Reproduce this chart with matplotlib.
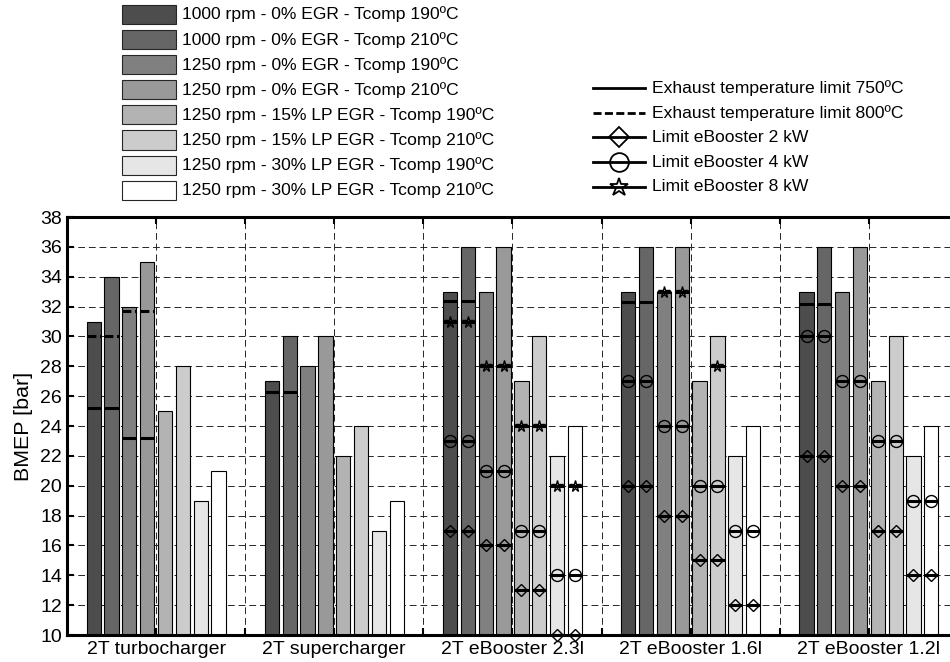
import numpy as np
import matplotlib
matplotlib.use('Agg')
import matplotlib.pyplot as plt
from matplotlib.lines import Line2D
from matplotlib.patches import Rectangle

plt.rcParams['font.family'] = ['Liberation Sans', 'DejaVu Sans']

nan = np.nan

groups = ['2T turbocharger', '2T supercharger', '2T eBooster 2.3l',
          '2T eBooster 1.6l', '2T eBooster 1.2l']

series = ['1000 rpm - 0% EGR - Tcomp 190ºC',
          '1000 rpm - 0% EGR - Tcomp 210ºC',
          '1250 rpm - 0% EGR - Tcomp 190ºC',
          '1250 rpm - 0% EGR - Tcomp 210ºC',
          '1250 rpm - 15% LP EGR - Tcomp 190ºC',
          '1250 rpm - 15% LP EGR - Tcomp 210ºC',
          '1250 rpm - 30% LP EGR - Tcomp 190ºC',
          '1250 rpm - 30% LP EGR - Tcomp 210ºC']

# maximum BMEP per group (rows) and operating condition (columns)
bmep = [[31, 34, 32, 35, 25, 28, 19, 21],
        [27, 30, 28, 30, 22, 24, 17, 19],
        [33, 36, 33, 36, 27, 30, 22, 24],
        [33, 36, 33, 36, 27, 30, 22, 24],
        [33, 36, 33, 36, 27, 30, 22, 24]]

# exhaust temperature limits
lim_750 = [[25.2, 25.2, 23.2, 23.2, nan, nan, nan, nan],
           [26.3, 26.3, nan, nan, nan, nan, nan, nan],
           [32.4, 32.4, nan, nan, nan, nan, nan, nan],
           [32.3, 32.3, nan, nan, nan, nan, nan, nan],
           [32.2, 32.2, nan, nan, nan, nan, nan, nan]]
lim_800 = [[30.0, 30.0, 31.7, 31.7, nan, nan, nan, nan],
           [nan] * 8, [nan] * 8, [nan] * 8, [nan] * 8]

# eBooster power limits
lim_2kw = [[nan] * 8, [nan] * 8,
           [17, 17, 16, 16, 13, 13, 10, 10],
           [20, 20, 18, 18, 15, 15, 12, 12],
           [22, 22, 20, 20, 17, 17, 14, 14]]
lim_4kw = [[nan] * 8, [nan] * 8,
           [23, 23, 21, 21, 17, 17, 14, 14],
           [27, 27, 24, 24, 20, 20, 17, 17],
           [30, 30, 27, 27, 23, 23, 19, 19]]
lim_8kw = [[nan] * 8, [nan] * 8,
           [31, 31, 28, 28, 24, 24, 20, 20],
           [nan, nan, 33, 33, nan, 28, nan, nan],
           [nan] * 8]

legend_lines = ['Exhaust temperature limit 750ºC',
                'Exhaust temperature limit 800ºC',
                'Limit eBooster 2 kW',
                'Limit eBooster 4 kW',
                'Limit eBooster 8 kW']

colors = ['#4d4d4d', '#666666', '#808080', '#999999',
          '#b3b3b3', '#cccccc', '#e6e6e6', '#ffffff']

W, H = 950, 662
fig = plt.figure(figsize=(W / 100, H / 100), dpi=100)
ax = fig.add_axes([67 / W, 27 / H, (958 - 67) / W, (635 - 217) / H])

n = len(series)
slot = 0.1
bw = 0.08
xg = np.arange(1, len(groups) + 1)
offsets = (np.arange(n) - (n - 1) / 2) * slot

data = np.array(bmep, dtype=float)
for i in range(n):
    ax.bar(xg + offsets[i], data[:, i] - 10, bottom=10, width=bw,
           color=colors[i], edgecolor='black', linewidth=0.8, zorder=2)

LW = 2.2
DASH = (0, (2.9, 1.2))
mk = dict(mfc='none', mec='black', mew=1.0, clip_on=False, zorder=4)


def draw_limit(values, ls='-', marker=None, ms=8):
    arr = np.array(values, dtype=float)
    for g in range(arr.shape[0]):
        for i in range(arr.shape[1]):
            v = arr[g, i]
            if np.isnan(v):
                continue
            x = xg[g] + offsets[i]
            ax.plot([x - bw / 2, x + bw / 2], [v, v], color='black', lw=LW,
                    ls=ls, zorder=3, clip_on=False, solid_capstyle='butt')
            if marker:
                ax.plot([x], [v], marker=marker, ms=ms, **mk)


draw_limit(lim_750)
draw_limit(lim_800, ls=DASH)
draw_limit(lim_2kw, marker='D', ms=6.5)
draw_limit(lim_4kw, marker='o', ms=8.6)
draw_limit(lim_8kw, marker='*', ms=8.5)

ax.set_xlim(0.5, 5.5)
ax.set_ylim(10, 38)
ax.set_yticks(np.arange(10, 39, 2))
ax.set_xticks(xg)
ax.set_xticklabels(groups)
ax.set_xticks(np.arange(1.5, 5.5, 1), minor=True)
ax.tick_params(axis='both', which='both', direction='in', length=5,
               width=1.5, top=True, right=True, labelsize=14)
ax.tick_params(axis='y', pad=3.5)
ax.tick_params(axis='x', which='major', pad=4.5)
ax.set_axisbelow(True)
ax.grid(True, which='both', color='0.15', lw=0.7, ls=(0, (7, 4)))
for s in ax.spines.values():
    s.set_linewidth(2.2)
ax.set_ylabel('BMEP [bar]', fontsize=15.4)
ax.yaxis.set_label_coords((33 - 67) / (958 - 67), 0.5)


def fx(px):
    return px / W


def fy(py):
    return 1 - py / H


# legend for the operating conditions (filled keys)
for i, (lab, c) in enumerate(zip(series, colors)):
    top = 5 + 25.1 * i
    fig.add_artist(Rectangle((fx(122), fy(top + 19)), fx(176) - fx(122),
                             19 / H, transform=fig.transFigure,
                             facecolor=c, edgecolor='0.15', linewidth=0.8))
    fig.text(fx(182), fy(top + 9.5), lab, fontsize=12.6, va='center',
             ha='left')

# legend for the limit lines
line_styles = [dict(ls='-'), dict(ls=DASH),
               dict(ls='-', marker='D', ms=10.5),
               dict(ls='-', marker='o', ms=13.5),
               dict(ls='-', marker='*', ms=13.5)]
for i, (lab, st) in enumerate(zip(legend_lines, line_styles)):
    yc = fy(88 + 24.7 * i)
    st = dict(st)
    marker = st.pop('marker', None)
    ms = st.pop('ms', 0)
    fig.add_artist(Line2D([fx(593), fx(645)], [yc, yc], color='black',
                          lw=2.0, transform=fig.transFigure, **st))
    if marker:
        fig.add_artist(Line2D([fx(619)], [yc], marker=marker, ms=ms,
                              mfc='none', mec='black', mew=1.3,
                              transform=fig.transFigure))
    fig.text(fx(652), yc, lab, fontsize=12.6, va='center', ha='left')

fig.savefig('out.png', dpi=100)
